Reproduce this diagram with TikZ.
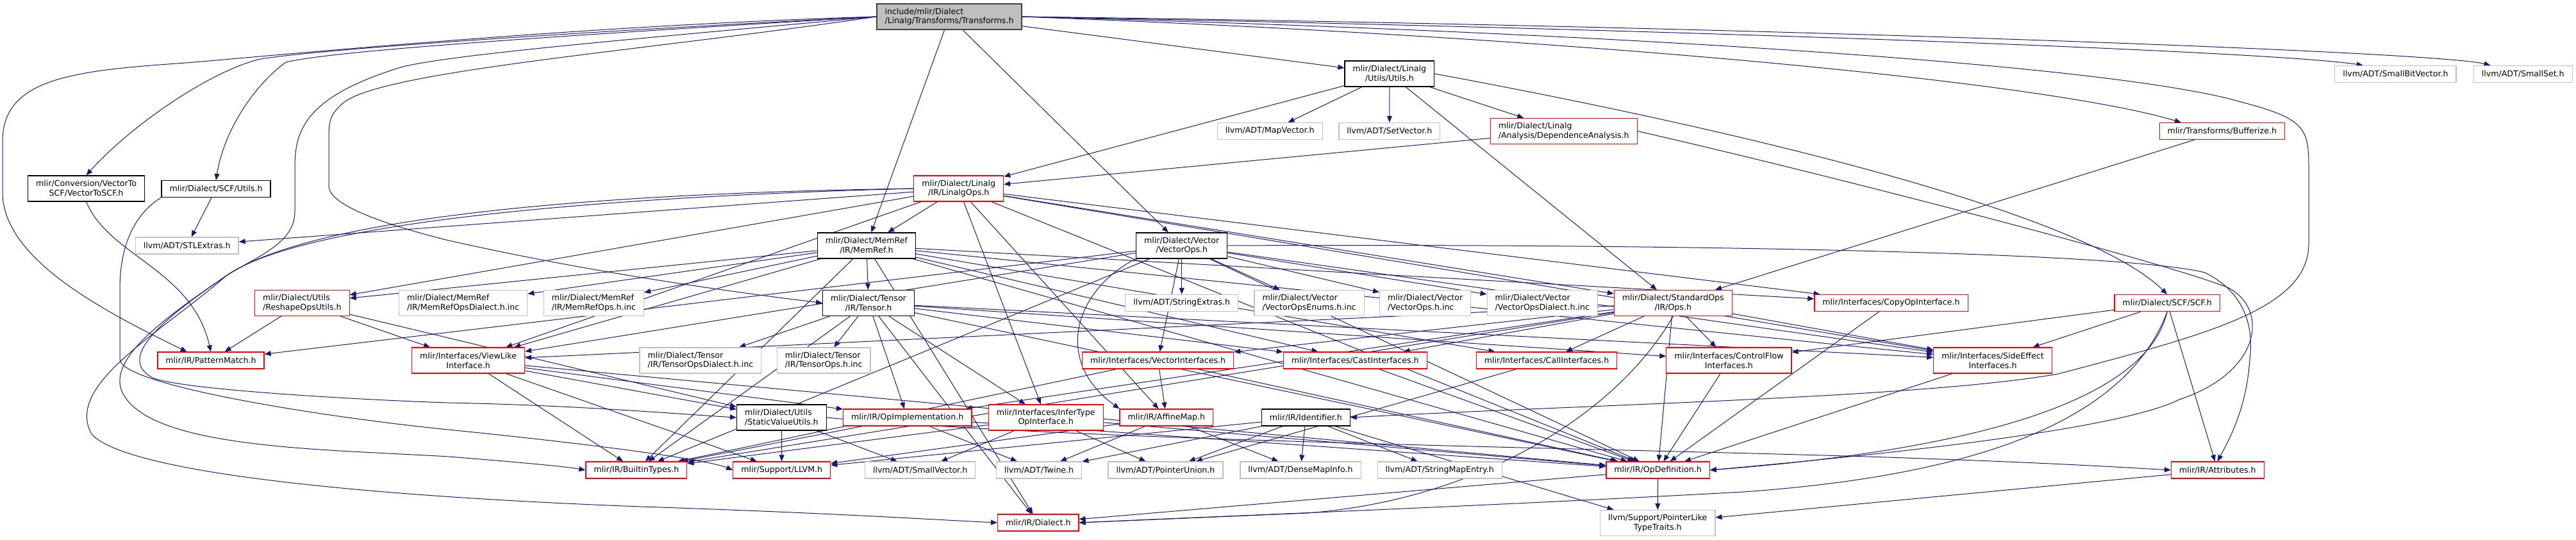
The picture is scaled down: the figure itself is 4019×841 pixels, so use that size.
\documentclass[tikz,border=0pt]{standalone}
\usepackage{fontspec}
\setmainfont{DejaVu Sans}
\usetikzlibrary{arrows.meta}
\definecolor{eblue}{HTML}{191970}
\definecolor{gr}{HTML}{BFBFBF}
\definecolor{rootfill}{HTML}{BFBFBF}
\definecolor{rootline}{HTML}{404040}
\pgfdeclarelayer{bg}
\pgfsetlayers{bg,main}
\begin{document}
\begin{tikzpicture}[x=1pt,y=-1pt,
  box/.style={draw, rectangle, fill=white, line width=1.2pt, inner xsep=12.5pt, inner ysep=0pt, font=\fontsize{12.6}{14.7}\selectfont},
  one/.style={box, minimum height=26pt},
  two/.style={box, minimum height=40pt},
  rb/.style={draw=red}, gb/.style={draw=gr}, kb/.style={draw=black},
  e/.style={draw=eblue, line width=1pt, -{Triangle[length=10pt,width=8pt]}}]
\useasboundingbox (0,0) rectangle (4019,841);

% ---------------- nodes ----------------
\node[two,draw=rootline,fill=rootfill,align=left] (root) at (1481,26) {include/mlir/Dialect\\/Linalg/Transforms/Transforms.h};
\node[two,kb,align=center] (vtoscf) at (134.6,294) {mlir/Conversion/VectorTo\\SCF/VectorToSCF.h};
\node[one,kb] (scfutils) at (337,294.5) {mlir/Dialect/SCF/Utils.h};
\node[one,gb] (stlextras) at (291.7,383) {llvm/ADT/STLExtras.h};
\node[one,rb] (pattern) at (329,562) {mlir/IR/PatternMatch.h};
\node[two,rb,align=left] (reshape) at (471.4,472.5) {mlir/Dialect/Utils\\/ReshapeOpsUtils.h};
\node[two,gb,align=left] (memrefdial) at (722.6,472.5) {mlir/Dialect/MemRef\\/IR/MemRefOpsDialect.h.inc};
\node[two,gb,align=left] (memrefinc) at (926.4,472.5) {mlir/Dialect/MemRef\\/IR/MemRefOps.h.inc};
\node[two,rb,align=center] (viewlike) at (730.6,562) {mlir/Interfaces/ViewLike\\Interface.h};
\node[two,kb,align=center] (memref) at (1351.9,383) {mlir/Dialect/MemRef\\/IR/MemRef.h};
\node[two,kb,align=center] (tensor) at (1355,472.5) {mlir/Dialect/Tensor\\/IR/Tensor.h};
\node[two,gb,align=left] (tensordial) at (1092.9,562) {mlir/Dialect/Tensor\\/IR/TensorOpsDialect.h.inc};
\node[two,gb,align=left] (tensorinc) at (1285.1,562) {mlir/Dialect/Tensor\\/IR/TensorOps.h.inc};
\node[two,kb,align=left] (staticval) at (1219.4,651) {mlir/Dialect/Utils\\/StaticValueUtils.h};
\node[one,rb] (opimpl) at (1415.7,651) {mlir/IR/OpImplementation.h};
\node[one,rb] (builtin) at (992.9,733) {mlir/IR/BuiltinTypes.h};
\node[one,rb] (llvmh) at (1219.7,733) {mlir/Support/LLVM.h};
\node[one,gb] (smallvec) at (1435.6,733) {llvm/ADT/SmallVector.h};
\node[two,rb,align=center] (linalgops) at (1495.7,294) {mlir/Dialect/Linalg\\/IR/LinalgOps.h};
\node[one,gb] (mapvec) at (1981.2,204.5) {llvm/ADT/MapVector.h};
\node[two,kb,align=center] (vectorops) at (1843.7,383) {mlir/Dialect/Vector\\/VectorOps.h};
\node[one,gb] (strext) at (1843.7,472.5) {llvm/ADT/StringExtras.h};
\node[two,gb,align=left] (venums) at (2042.6,472.5) {mlir/Dialect/Vector\\/VectorOpsEnums.h.inc};
\node[two,gb,align=left] (vopsinc) at (2223.7,472.5) {mlir/Dialect/Vector\\/VectorOps.h.inc};
\node[two,gb,align=left] (vdial) at (2406.3,472.5) {mlir/Dialect/Vector\\/VectorOpsDialect.h.inc};
\node[two,rb,align=center] (stdops) at (2610.3,472.5) {mlir/Dialect/StandardOps\\/IR/Ops.h};
\node[one,rb] (vecif) at (1806.6,562) {mlir/Interfaces/VectorInterfaces.h};
\node[one,rb] (castif) at (2114.2,562) {mlir/Interfaces/CastInterfaces.h};
\node[one,rb] (callif) at (2413,562) {mlir/Interfaces/CallInterfaces.h};
\node[two,rb,align=center] (cfif) at (2697.4,562) {mlir/Interfaces/ControlFlow\\Interfaces.h};
\node[two,rb,align=center] (infer) at (1631.7,651) {mlir/Interfaces/InferType\\OpInterface.h};
\node[one,rb] (affine) at (1819.8,651) {mlir/IR/AffineMap.h};
\node[one,kb] (ident) at (2037.3,651) {mlir/IR/Identifier.h};
\node[one,gb] (twine) at (1621,733) {llvm/ADT/Twine.h};
\node[one,gb] (ptrunion) at (1818.5,733) {llvm/ADT/PointerUnion.h};
\node[one,gb] (densemap) at (2029,733) {llvm/ADT/DenseMapInfo.h};
\node[one,gb] (strmap) at (2246.2,733) {llvm/ADT/StringMapEntry.h};
\node[one,rb] (opdef) at (2586.6,733) {mlir/IR/OpDefinition.h};
\node[one,rb] (dialect) at (1619.8,815) {mlir/IR/Dialect.h};
\node[two,gb,align=center] (pltt) at (2586.2,815.5) {llvm/Support/PointerLike\\TypeTraits.h};
\node[two,kb,align=center] (linutils) at (2167.8,115) {mlir/Dialect/Linalg\\/Utils/Utils.h};
\node[one,gb] (setvec) at (2167.9,204.5) {llvm/ADT/SetVector.h};
\node[two,rb,align=left] (depan) at (2439.7,204.5) {mlir/Dialect/Linalg\\/Analysis/DependenceAnalysis.h};
\node[one,rb] (bufferize) at (3466.8,204.5) {mlir/Transforms/Bufferize.h};
\node[one,gb] (sbv) at (3737.4,115.5) {llvm/ADT/SmallBitVector.h};
\node[one,gb] (sset) at (3936.2,115.5) {llvm/ADT/SmallSet.h};
\node[one,rb] (copyop) at (2950.5,472.5) {mlir/Interfaces/CopyOpInterface.h};
\node[two,rb,align=center] (sideeff) at (3109,562) {mlir/Interfaces/SideEffect\\Interfaces.h};
\node[one,rb] (scf) at (3381.1,472.5) {mlir/Dialect/SCF/SCF.h};
\node[one,rb] (attrs) at (3459.8,733) {mlir/IR/Attributes.h};

% ---------------- edges ----------------
\begin{pgfonlayer}{bg}
% root
\draw[e] (root.west) .. controls (900,40) and (450,85) .. (290,98) .. controls (120,110) and (4,120) .. (4,220) -- (4,300) .. controls (4,400) and (150,480) .. (pattern.160);
\draw[e] (root.west) .. controls (800,55) and (470,80) .. (402,93) .. controls (320,115) and (200,200) .. (vtoscf.north);
\draw[e] (root.west) .. controls (800,60) and (520,80) .. (446,97) .. controls (400,130) and (350,200) .. (scfutils.north);
\draw[e] (root.west) .. controls (1000,80) and (600,110) .. (536,160) .. controls (513,180) and (513,190) .. (513,220) -- (513,290) .. controls (513,320) and (600,350) .. (700,375) .. controls (900,420) and (1100,450) .. (tensor.west);
\draw[e] (root.west) .. controls (1000,60) and (700,85) .. (625,105) .. controls (480,150) and (460,200) .. (460,260) -- (460,330) .. controls (460,380) and (400,400) .. (353,430) .. controls (250,500) and (180,560) .. (240,590) .. controls (300,610) and (600,625) .. (700,628) .. controls (900,632) and (1050,645) .. (staticval.west);
\draw[e] (root) -- (linutils);
\draw[e] (root) -- (memref);
\draw[e] (root) -- (vectorops);
\draw[e] (root.east) .. controls (2500,60) and (3200,130) .. (bufferize.168);
\draw[e] (root.east) .. controls (2600,45) and (3550,80) .. (sbv.165);
\draw[e] (root.east) .. controls (2700,40) and (3800,80) .. (sset.165);
\draw[e] (root.east) .. controls (2500,50) and (3300,100) .. (3500,160) .. controls (3595,185) and (3602,200) .. (3602,260) -- (3602,380) .. controls (3602,480) and (3450,520) .. (3211,583) .. controls (3000,620) and (2500,630) .. (ident.east);
% VectorToSCF, SCF utils
\draw[e] (vtoscf.south) .. controls (170,400) and (300,420) .. (pattern.north);
\draw[e] (scfutils) -- (stlextras);
\draw[e] (scfutils.south west) .. controls (200,340) and (187,400) .. (187,450) -- (187,560) .. controls (187,600) and (500,650) .. (700,670) .. controls (900,690) and (1100,715) .. (llvmh.west);
% Linalg utils
\draw[e] (linutils) -- (linalgops);
\draw[e] (linutils) -- (mapvec);
\draw[e] (linutils) -- (setvec);
\draw[e] (linutils) -- (depan);
\draw[e] (linutils) -- (stdops);
\draw[e] (linutils.east) .. controls (2700,200) and (3250,330) .. (scf.north);
% Dependence analysis
\draw[e] (depan) -- (linalgops);
\draw[e] (depan.east) .. controls (2800,260) and (3350,400) .. (3475,448) .. controls (3540,480) and (3530,580) .. (3400,623) .. controls (3300,673) and (2900,712) .. (opdef.east);
% Bufferize
\draw[e] (bufferize) -- (stdops);
% LinalgOps
\draw[e] (linalgops) -- (memref);
\draw[e] (linalgops) -- (stlextras);
\draw[e] (linalgops) -- (reshape);
\draw[e] (linalgops) -- (viewlike);
\draw[e] (linalgops) -- (infer);
\draw[e] (linalgops) -- (affine);
\draw[e] (linalgops) -- (copyop);
\draw[e] (linalgops) -- (sideeff);
\draw[e] (linalgops) -- (stdops);
\draw[e] (linalgops) -- (opdef);
\draw[e] (linalgops.west) .. controls (1000,300) and (500,330) .. (353,430) .. controls (250,500) and (170,560) .. (190,610) .. controls (230,700) and (500,700) .. (700,712) .. controls (800,720) and (880,727) .. (builtin.west);
\draw[e] (linalgops.west) .. controls (1000,305) and (480,340) .. (353,430) .. controls (250,520) and (100,600) .. (143,677) .. controls (200,740) and (600,775) .. (1000,790) .. controls (1300,800) and (1450,810) .. (dialect.west);
% MemRef
\draw[e] (memref) -- (memrefdial);
\draw[e] (memref) -- (memrefinc);
\draw[e] (memref) -- (tensor);
\draw[e] (memref) -- (reshape);
\draw[e] (memref) -- (viewlike);
\draw[e] (memref) -- (castif);
\draw[e] (memref) -- (callif);
\draw[e] (memref) -- (copyop);
\draw[e] (memref) -- (sideeff);
\draw[e] (memref) -- (builtin);
\draw[e] (memref) -- (dialect);
\draw[e] (memref) -- (opdef);
% Tensor
\draw[e] (tensor) -- (tensordial);
\draw[e] (tensor) -- (tensorinc);
\draw[e] (tensor) -- (opimpl);
\draw[e] (tensor) -- (infer);
\draw[e] (tensor) -- (castif);
\draw[e] (tensor) -- (cfif);
\draw[e] (tensor) -- (sideeff);
\draw[e] (tensor) -- (builtin);
\draw[e] (tensor) -- (dialect);
\draw[e] (tensor) -- (opdef);
% VectorOps
\draw[e] (vectorops) -- (strext);
\draw[e] (vectorops) -- (venums);
\draw[e] (vectorops) -- (vopsinc);
\draw[e] (vectorops) -- (vdial);
\draw[e] (vectorops) -- (vecif);
\draw[e] (vectorops.south west) .. controls (1680,450) and (1640,560) .. (affine.north west);
\draw[e] (vectorops) -- (pattern);
\draw[e] (vectorops) -- (viewlike);
\draw[e] (vectorops) -- (builtin);
\draw[e] (vectorops) -- (sideeff);
\draw[e] (vectorops) -- (opdef);
\draw[e] (vectorops.east) .. controls (2500,380) and (3300,390) .. (3440,425) .. controls (3510,460) and (3515,520) .. (3510,560) .. controls (3505,640) and (3475,690) .. (attrs.north);
% StandardOps
\draw[e] (stdops) -- (castif);
\draw[e] (stdops) -- (callif);
\draw[e] (stdops) -- (cfif);
\draw[e] (stdops) -- (sideeff);
\draw[e] (stdops) -- (vecif);
\draw[e] (stdops) -- (opimpl);
\draw[e] (stdops) -- (builtin);
\draw[e] (stdops) -- (viewlike);
\draw[e] (stdops) -- (opdef);
\draw[e] (stdops.south) .. controls (2520,650) and (2300,780) .. (2040,800) -- (dialect.east);
% SCF
\draw[e] (scf) -- (cfif);
\draw[e] (scf) -- (sideeff);
\draw[e] (scf) -- (attrs);
\draw[e] (scf.south) .. controls (3350,620) and (3100,700) .. (opdef.east);
\draw[e] (scf.south) .. controls (3320,650) and (3100,740) .. (2720,767) .. controls (2300,790) and (1900,805) .. (dialect.east);
% ViewLike, Reshape
\draw[e] (viewlike) -- (staticval);
\draw[e] (viewlike) -- (opimpl);
\draw[e] (viewlike) -- (builtin);
\draw[e] (viewlike) -- (llvmh);
\draw[e] (viewlike) -- (opdef);
\draw[e] (reshape) -- (pattern);
\draw[e] (reshape) -- (viewlike);
\draw[e] (reshape) -- (staticval);
% StaticValueUtils
\draw[e] (staticval) -- (llvmh);
\draw[e] (staticval) -- (smallvec);
\draw[e] (staticval.east) .. controls (1700,690) and (2600,700) .. (3000,715) .. controls (3200,722) and (3300,728) .. (attrs.west);
% OpImplementation, InferType, AffineMap
\draw[e] (opimpl) -- (builtin);
\draw[e] (opimpl) -- (twine);
\draw[e] (opimpl) -- (opdef);
\draw[e] (infer) -- (smallvec);
\draw[e] (infer) -- (ptrunion);
\draw[e] (infer) -- (builtin);
\draw[e] (infer) -- (opdef);
\draw[e] (affine) -- (twine);
\draw[e] (affine) -- (densemap);
\draw[e] (affine) -- (llvmh);
% Interfaces
\draw[e] (vecif) -- (affine);
\draw[e] (vecif) -- (opdef);
\draw[e] (vecif) -- (builtin);
\draw[e] (castif) -- (opdef);
\draw[e] (callif) -- (ptrunion);
\draw[e] (cfif) -- (opdef);
\draw[e] (sideeff) -- (opdef);
\draw[e] (copyop) -- (opdef);
% Identifier
\draw[e] (ident) -- (llvmh);
\draw[e] (ident) -- (twine);
\draw[e] (ident) -- (ptrunion);
\draw[e] (ident) -- (densemap);
\draw[e] (ident) -- (strmap);
\draw[e] (ident) -- (pltt);
% OpDefinition, Attributes
\draw[e] (opdef) -- (dialect);
\draw[e] (opdef) -- (pltt);
\draw[e] (attrs) -- (pltt);
\end{pgfonlayer}
\end{tikzpicture}
\end{document}
